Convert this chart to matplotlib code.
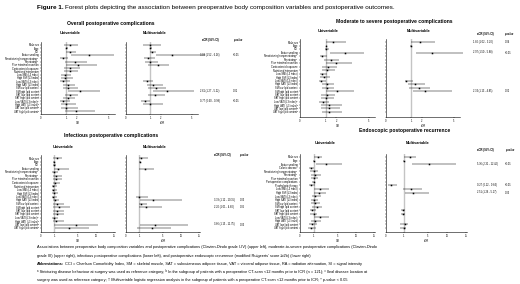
import numpy as np
import matplotlib.pyplot as plt

plt.rcParams['font.family'] = ['Liberation Sans', 'DejaVu Sans']

nan = np.nan

# ---- filas ----
labels_comp = ['Male sex', 'Age', 'CCI', 'Active smoking',
               'Nonstricturing/nonpenetrating\u1d43', 'Penetrating\u1d43',
               'Prior intestinal resection', 'Corticosteroid exposure',
               'Nutritional intervention', 'Low SMI (L3 index)', 'High SMI (L3 index)',
               'Low SATI (L3 index)', 'High SATI (L3 index)', 'SM low lipid content',
               'SM high lipid content', 'SAT low lipid content', 'SAT high lipid content',
               'Low VATI (L3 index)\u1d47', 'High VATI (L3 index)\u1d47',
               'VAT low lipid content\u1d47', 'VAT high lipid content\u1d47']
labels_rec = ['Male sex', 'Age', 'Active smoking', 'Colonic disease\u1d9c',
              'Nonstricturing/nonpenetrating\u1d43', 'Penetrating\u1d43',
              'Prior intestinal resection', 'Postoperative complications',
              'Prophylactic therapy', 'Low SMI (L3 index)', 'High SMI (L3 index)',
              'Low SATI (L3 index)', 'High SATI (L3 index)', 'SM low lipid content',
              'SM high lipid content', 'SAT low lipid content', 'SAT high lipid content',
              'Low VATI (L3 index)', 'High VATI (L3 index)', 'VAT low lipid content',
              'VAT high lipid content']

# ---- 1) overall postoperative complications ----
tl_uni_or = [1.32, 1.01, 1.32, 3.18, 0.87, 1.80, 2.12, 1.32, 1.32, 0.94, 0.97, 0.87, 1.16, 1.16, 2.28, 1.32, 1.16, 0.87, 1.00, 1.00, 1.96]
tl_uni_lo = [0.91, 0.98, 1.00, 1.42, 0.74, 0.94, 1.00, 0.91, 0.91, 0.81, 0.81, 0.74, 0.87, 0.87, 1.16, 0.94, 0.87, 0.74, 0.81, 0.81, 0.94]
tl_uni_hi = [2.12, 1.20, 1.96, 5.48, 1.16, 2.92, 3.88, 2.28, 2.12, 1.48, 1.64, 1.32, 1.80, 2.12, 4.20, 2.12, 1.80, 1.32, 1.96, 2.12, 3.72]
tl_mul_or = [1.00, 1.00, 1.10, 3.08, 0.91, 0.97, 1.73, nan, nan, nan, nan, 0.84, 1.25, 1.57, 2.61, 1.41, nan, 0.77, 0.97, nan, nan]
tl_mul_lo = [0.70, 0.97, 0.97, 1.52, 0.73, 0.77, 0.91, nan, nan, nan, nan, 0.70, 0.84, 0.91, 1.27, 0.91, nan, 0.60, 0.70, nan, nan]
tl_mul_hi = [2.05, 1.13, 1.57, 6.26, 1.41, 1.73, 2.84, nan, nan, nan, nan, 1.25, 2.21, 2.52, 5.22, 2.37, nan, 0.98, 2.21, nan, nan]
tl_txt_rows = [3, 14, 17]
tl_txt_aor = ['3.08 (1.52 - 6.26)', '2.61 (1.27 - 5.22)', '0.77 (0.60 - 0.98)']
tl_txt_p = ['<0.01', '0.01', '<0.01']

# ---- 2) moderate to severe ----
tr_uni_or = [1.71, 1.06, 1.06, 2.85, 0.87, 1.55, 2.02, 1.25, 1.15, 0.87, 0.93, 0.84, 1.15, 1.15, 2.08, 1.15, 1.09, 0.91, 1.31, 1.31, 1.31]
tr_uni_lo = [1.00, 1.00, 0.97, 1.40, 0.80, 0.93, 1.00, 0.87, 0.87, 0.77, 0.80, 0.73, 0.87, 0.87, 1.00, 0.84, 0.84, 0.73, 0.84, 0.84, 0.87]
tr_uni_hi = [2.90, 1.15, 1.31, 4.54, 1.15, 2.23, 3.46, 2.08, 1.92, 1.15, 1.46, 1.00, 1.83, 1.77, 3.62, 1.92, 1.83, 1.31, 2.54, 2.38, 2.54]
tr_mul_or = [1.80, 1.00, nan, 2.97, nan, nan, nan, nan, nan, nan, nan, 0.81, 1.32, 1.74, 2.34, nan, nan, nan, nan, nan, nan]
tr_mul_lo = [1.02, 0.96, nan, 1.50, nan, nan, nan, nan, nan, nan, nan, 0.74, 0.87, 0.91, 1.13, nan, nan, nan, nan, nan, nan]
tr_mul_hi = [3.20, 1.06, nan, 5.88, nan, nan, nan, nan, nan, nan, nan, 1.16, 2.28, 2.82, 4.85, nan, nan, nan, nan, nan, nan]
tr_txt_rows = [0, 3, 14]
tr_txt_aor = ['1.80 (1.02 - 3.20)', '2.97 (1.50 - 5.88)', '2.34 (1.13 - 4.85)']
tr_txt_p = ['0.04', '<0.01', '0.02']

# ---- 3) infectious ----
bl_uni_or = [1.41, 1.00, 1.00, 1.70, 0.98, 1.29, 1.29, 1.12, 0.93, 0.93, 0.98, 0.93, 1.12, 1.41, 1.87, 1.41, 1.41, 0.98, 1.29, 4.59, 3.43]
bl_uni_lo = [0.93, 0.93, 0.88, 1.00, 0.80, 0.88, 0.88, 0.88, 0.80, 0.80, 0.80, 0.80, 0.88, 0.88, 0.93, 0.88, 0.88, 0.80, 0.88, 1.00, 1.12]
bl_uni_hi = [2.28, 1.12, 1.29, 3.43, 1.70, 2.28, 2.28, 1.99, 1.41, 1.41, 1.70, 1.52, 1.87, 2.57, 3.72, 2.57, 2.57, 1.70, 2.57, 10.30, 8.00]
bl_mul_or = [1.31, 1.12, nan, 1.92, nan, nan, nan, nan, nan, nan, nan, 1.00, 3.38, 1.31, 2.20, nan, nan, nan, nan, 3.66, 3.15]
bl_mul_lo = [0.95, 1.00, nan, 1.00, nan, nan, nan, nan, nan, nan, nan, 0.75, 1.12, 0.95, 1.01, nan, nan, nan, nan, 1.15, 0.80]
bl_mul_hi = [2.54, 1.31, nan, 3.46, nan, nan, nan, nan, nan, nan, nan, 2.54, 10.15, 2.23, 4.80, nan, nan, nan, nan, 11.75, 7.08]
bl_txt_rows = [12, 14, 19]
bl_txt_aor = ['3.38 (1.12 - 10.15)', '2.20 (1.01 - 4.80)', '3.66 (1.15 - 11.75)']
bl_txt_p = ['0.03', '0.05', '0.03']

# ---- 4) endoscopic recurrence ----
br_uni_or = [1.68, 1.00, 3.00, 0.81, 1.00, 1.26, 1.05, 1.00, 0.81, 2.10, 1.95, 1.32, 1.00, 1.32, 1.58, 0.89, 1.00, 2.10, 1.32, 0.89, 0.81]
br_uni_lo = [1.00, 0.95, 1.42, 0.68, 0.76, 0.81, 0.81, 0.86, 0.68, 1.16, 1.16, 0.86, 0.81, 0.81, 0.86, 0.73, 0.76, 1.05, 0.81, 0.68, 0.62]
br_uni_hi = [2.47, 1.16, 6.09, 1.16, 1.68, 2.21, 1.68, 1.32, 1.26, 3.53, 3.00, 2.21, 1.68, 2.10, 2.37, 1.42, 1.58, 3.53, 2.21, 1.58, 1.42]
br_mul_or = [1.99, 1.00, 5.36, nan, nan, nan, nan, nan, 0.27, 2.26, 2.51, nan, nan, nan, nan, 0.96, 0.96, nan, nan, 1.16, 1.00]
br_mul_lo = [1.00, 0.96, 2.31, nan, nan, nan, nan, nan, 0.12, 0.96, 1.26, nan, nan, nan, nan, 0.83, 0.83, nan, nan, 0.77, 0.77]
br_mul_hi = [3.08, 1.10, 12.40, nan, nan, nan, nan, nan, 0.64, 4.01, 5.17, nan, nan, nan, nan, 1.27, 1.27, nan, nan, 1.71, 1.44]
br_txt_rows = [2, 8, 10]
br_txt_aor = ['5.36 (2.31 - 12.40)', '0.27 (0.12 - 0.64)', '2.51 (1.26 - 5.17)']
br_txt_p = ['<0.01', '<0.01', '0.03']

ticks_top = [0, 1, 2, 5]
ticks_bot = [0, 1, 5, 10, 15]

W, H = 520, 284
fig = plt.figure(figsize=(W / 100, H / 100), dpi=100)
fig.patch.set_facecolor('white')


def fx(p):
    return p / W


def fy(p):
    return 1 - p / H


def escala(av, af):
    av = np.asarray(av, float)
    af = np.asarray(af, float)

    def ext(x, xs, ys):
        x = np.asarray(x, float)
        out = np.interp(x, xs, ys)
        s1 = (ys[-1] - ys[-2]) / (xs[-1] - xs[-2])
        s0 = (ys[1] - ys[0]) / (xs[1] - xs[0])
        out = np.where(x > xs[-1], ys[-1] + (x - xs[-1]) * s1, out)
        out = np.where(x < xs[0], ys[0] + (x - xs[0]) * s0, out)
        return out

    return (lambda v: ext(v, av, af)), (lambda f: ext(f, af, av))


def forest(x0, x1, r0, rn, ybot, orv, lo, hi, av, af, ticks, xlab, labels=None):
    n = len(orv)
    sp = (rn - r0) / (n - 1)
    ytop = r0 - 0.9 * sp
    ax = fig.add_axes([fx(x0), fy(ybot), (x1 - x0) / W, (ybot - ytop) / H])
    fwd, inv = escala(av, af)
    ax.set_xscale('function', functions=(fwd, inv))
    ax.set_xlim(av[0], av[-1])
    ax.set_ylim(n - 1 + (ybot - rn) / sp, -0.9)
    ax.axvline(1, color='#c4c4c4', lw=1.0, zorder=0)
    y = np.arange(n)
    o = np.array(orv, float)
    l = np.array(lo, float)
    h = np.array(hi, float)
    ax.errorbar(o, y, xerr=[o - l, h - o], fmt='s', ms=1.1, color='k', mew=0,
                elinewidth=0.35, capsize=0.8, capthick=0.35, clip_on=False)
    for s in ['top', 'right']:
        ax.spines[s].set_visible(False)
    for s in ['left', 'bottom']:
        ax.spines[s].set_linewidth(0.4)
    ax.set_yticks(y)
    if labels is not None:
        ax.set_yticklabels(labels, fontsize=1.8)
    else:
        ax.set_yticklabels([])
    ax.set_xticks(ticks)
    ax.set_xticklabels([str(t) for t in ticks], fontsize=1.8)
    ax.tick_params(length=1, width=0.3, pad=0.6)
    ax.set_xlabel(xlab, fontsize=1.8, labelpad=0.5)
    ax.set_facecolor('none')
    return ax


def tabla(ax, filas, aor, pv, xa, xp):
    for r, a, p in zip(filas, aor, pv):
        ax.text(xa, r, a, transform=ax.get_yaxis_transform(), fontsize=1.8, va='center', ha='left')
        ax.text(xp, r, p, transform=ax.get_yaxis_transform(), fontsize=1.8, va='center', ha='left')


def cabecera(titulo, tx, ty, ux, mx, hy, ax_, px, cy):
    fig.text(fx(tx), fy(ty), titulo, fontsize=3.6, fontweight='bold', ha='center', va='center')
    fig.text(fx(ux), fy(hy), 'Univariable', fontsize=2.8, fontweight='bold', ha='center', va='center')
    fig.text(fx(mx), fy(hy), 'Multivariable', fontsize=2.8, fontweight='bold', ha='center', va='center')
    fig.text(fx(ax_), fy(cy), 'aOR (95% CI)', fontsize=1.9, fontweight='bold', ha='center', va='center')
    fig.text(fx(px), fy(cy), 'p-value', fontsize=1.9, fontweight='bold', style='italic', ha='center', va='center')


av_top = [0, 1, 5.6]
af_top = [0, 0.34, 1]
av_bot = [0, 1, 5, 10, 15.2]
af_bot = [0, 0.18, 0.5, 0.75, 1]

# panel superior izquierdo
forest(41, 115, 45, 111, 114, tl_uni_or, tl_uni_lo, tl_uni_hi, av_top, af_top, ticks_top, 'OR', labels_comp)
a = forest(126, 198, 45, 111, 114, tl_mul_or, tl_mul_lo, tl_mul_hi, av_top, af_top, ticks_top, 'aOR')
tabla(a, tl_txt_rows, tl_txt_aor, tl_txt_p, (200 - 126) / 72, (233 - 126) / 72)
cabecera('Overall postoperative complications', 111, 23, 70, 155, 33, 210, 238, 40)

# panel superior derecho
forest(300, 375, 42, 112, 117, tr_uni_or, tr_uni_lo, tr_uni_hi, av_top, af_top, ticks_top, 'OR', labels_comp)
a = forest(386, 460, 42, 112, 117, tr_mul_or, tr_mul_lo, tr_mul_hi, av_top, af_top, ticks_top, 'aOR')
tabla(a, tr_txt_rows, tr_txt_aor, tr_txt_p, (473 - 386) / 74, (505 - 386) / 74)
cabecera('Moderate to severe postoperative complications', 394, 21, 328, 419, 31, 485, 509, 34)

# panel inferior izquierdo
forest(41, 115, 158, 228, 232, bl_uni_or, bl_uni_lo, bl_uni_hi, av_bot, af_bot, ticks_bot, 'OR', labels_comp)
a = forest(126, 200, 158, 228, 232, bl_mul_or, bl_mul_lo, bl_mul_hi, av_bot, af_bot, ticks_bot, 'aOR')
tabla(a, bl_txt_rows, bl_txt_aor, bl_txt_p, (214 - 126) / 74, (240 - 126) / 74)
cabecera('Infectious postoperative complications', 111, 136, 63, 155, 147, 222, 244, 155)

# panel inferior derecho
forest(300, 375, 157, 228, 232, br_uni_or, br_uni_lo, br_uni_hi, av_bot, af_bot, ticks_bot, 'OR', labels_rec)
a = forest(386, 467, 157, 228, 232, br_mul_or, br_mul_lo, br_mul_hi, av_bot, [0, 0.22, 0.52, 0.75, 1], ticks_bot, 'aOR')
tabla(a, br_txt_rows, br_txt_aor, br_txt_p, (477 - 386) / 81, (505 - 386) / 81)
cabecera('Endoscopic postoperative recurrence', 405, 131, 325, 418, 143, 485, 510, 150)

# titulo
t1 = fig.text(fx(37), fy(7), 'Figure 1.', fontsize=4.6, fontweight='bold', ha='left', va='center')
fig.canvas.draw()
bb = t1.get_window_extent()
fig.text((bb.x1 + 1.5) / W, fy(7),
         'Forest plots depicting the association between preoperative body composition variables and postoperative outcomes.',
         fontsize=4.6, ha='left', va='center')

# pie
fs = 2.75
fig.text(fx(37), fy(247), 'Associations between preoperative body composition variables and postoperative complications (Clavien-Dindo grade I-IV) (upper left), moderate-to-severe postoperative complications (Clavien-Dindo',
         fontsize=fs, ha='left', va='center')
fig.text(fx(37), fy(256), "grade III) (upper right), infectious postoperative complications (lower left), and postoperative endoscopic recurrence (modified Rutgeerts' score \u2265i2b) (lower right)",
         fontsize=fs, ha='left', va='center')
t2 = fig.text(fx(37), fy(264), 'Abbreviations:', fontsize=fs, fontweight='bold', ha='left', va='center')
fig.canvas.draw()
bb = t2.get_window_extent()
fig.text((bb.x1 + 1) / W, fy(264), 'CCI = Charlson Comorbidity Index, SM = skeletal muscle, SAT = subcutaneous adipose tissue, VAT = visceral adipose tissue, RA = radiation attenuation, SI = signal intensity',
         fontsize=fs, ha='left', va='center')
fig.text(fx(37), fy(272), '\u1d43 Stricturing disease behaviour at surgery was used as reference category; \u1d47 In the subgroup of patients with a preoperative CT-scan <12 months prior to ICR (n = 121); \u1d9c Ileal disease location at',
         fontsize=fs, ha='left', va='center')
fig.text(fx(37), fy(280), 'surgery was used as reference category; \u2020 Multivariable logistic regression analysis in the subgroup of patients with a preoperative CT-scan <12 months prior to ICR; * p-value < 0.05',
         fontsize=fs, ha='left', va='center')

fig.savefig('out.png', dpi=100, facecolor='white')
